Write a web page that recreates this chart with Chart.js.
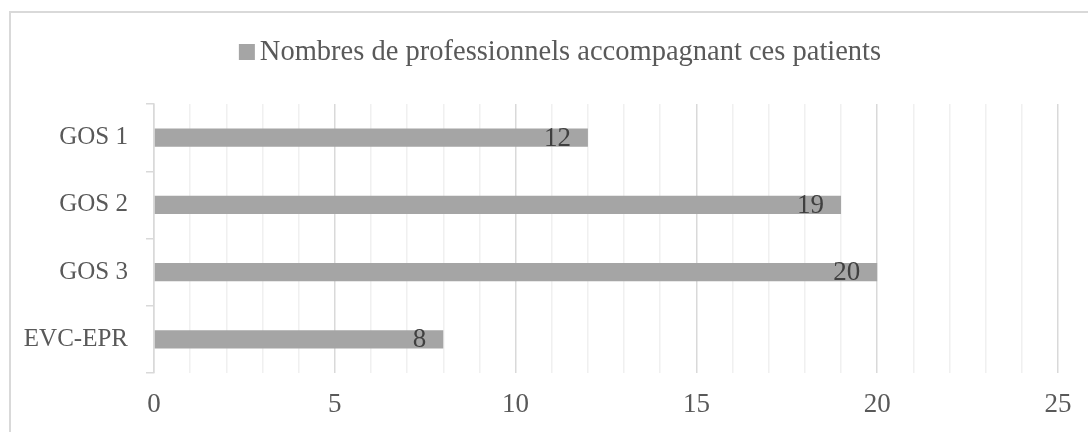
<!DOCTYPE html>
<html>
<head>
<meta charset="utf-8">
<script src="https://cdn.jsdelivr.net/npm/chart.js@4"></script>
<style>
  html, body { margin: 0; padding: 0; background: #fff; overflow: hidden; }
  #frame { position: absolute; left: 9px; top: 11px; width: 1100px; height: 440px; border: 2px solid #d9d9d9; }
  #wrap { position: absolute; left: 0; top: 0; width: 1088px; height: 432px; }
</style>
</head>
<body>
<div id="frame"></div>
<div id="wrap"><canvas id="barChart"></canvas></div>
<script>
  const categories = ['GOS 1', 'GOS 2', 'GOS 3', 'EVC-EPR'];
  const values = [12, 19, 20, 8];
  const seriesLabel = 'Nombres de professionnels accompagnant ces patients';
  const xTicks = [0, 5, 10, 15, 20, 25];

  const fontFamily = '"Liberation Serif", serif';
  const barColor = '#a5a5a5';

  // value labels drawn just inside the bar end
  const valueLabels = {
    id: 'valueLabels',
    afterDatasetsDraw(chart) {
      const ctx = chart.ctx;
      const meta = chart.getDatasetMeta(0);
      ctx.save();
      ctx.font = '27px ' + fontFamily;
      ctx.fillStyle = '#404040';
      ctx.textAlign = 'right';
      ctx.textBaseline = 'middle';
      meta.data.forEach((bar, i) => {
        ctx.fillText(String(values[i]), bar.x - 17, bar.y + 1);
      });
      ctx.restore();
    }
  };

  // legend drawn by hand so its place above the plot is fixed
  const topLegend = {
    id: 'topLegend',
    afterDraw(chart) {
      const ctx = chart.ctx;
      ctx.save();
      ctx.font = '28.5px ' + fontFamily;
      const w = ctx.measureText(seriesLabel).width;
      const box = 16, gap = 5;
      const left = 560 - (box + gap + w) / 2;
      const cy = 52;
      ctx.fillStyle = barColor;
      ctx.fillRect(left, cy - box / 2, box, box);
      ctx.fillStyle = '#595959';
      ctx.textAlign = 'left';
      ctx.textBaseline = 'middle';
      ctx.fillText(seriesLabel, left + box + gap, cy + 1);
      ctx.restore();
    }
  };

  const ctx = document.getElementById('barChart').getContext('2d');
  new Chart(ctx, {
    type: 'bar',
    data: {
      labels: categories,
      datasets: [{
        label: seriesLabel,
        data: values,
        backgroundColor: barColor,
        borderWidth: 0,
        categoryPercentage: 1,
        barPercentage: 0.27
      }]
    },
    options: {
      indexAxis: 'y',
      responsive: true,
      maintainAspectRatio: false,
      animation: false,
      layout: { padding: { left: 0, right: 30, top: 104, bottom: 10 } },
      plugins: {
        legend: { display: false },
        tooltip: { enabled: false }
      },
      scales: {
        x: {
          min: 0,
          max: 25,
          afterFit: (s) => { s.height = 49; },
          ticks: {
            stepSize: 1,
            autoSkip: false,
            maxRotation: 0,
            color: '#595959',
            font: { family: fontFamily, size: 27 },
            padding: 16,
            callback: (v) => xTicks.includes(v) ? v : ''
          },
          grid: {
            drawTicks: false,
            color: (c) => (c.tick && c.tick.value % 5 === 0) ? '#d9d9d9' : '#f0f0f0',
            lineWidth: 1.5
          },
          border: { display: false }
        },
        y: {
          afterFit: (s) => { s.width = 154; },
          ticks: {
            color: '#595959',
            font: { family: fontFamily, size: 25 },
            padding: 18
          },
          grid: {
            offset: true,
            drawOnChartArea: false,
            tickLength: 8,
            color: '#d9d9d9',
            lineWidth: 1.5
          },
          border: { display: true, color: '#d9d9d9', width: 1.5 }
        }
      }
    },
    plugins: [valueLabels, topLegend]
  });
</script>
</body>
</html>
